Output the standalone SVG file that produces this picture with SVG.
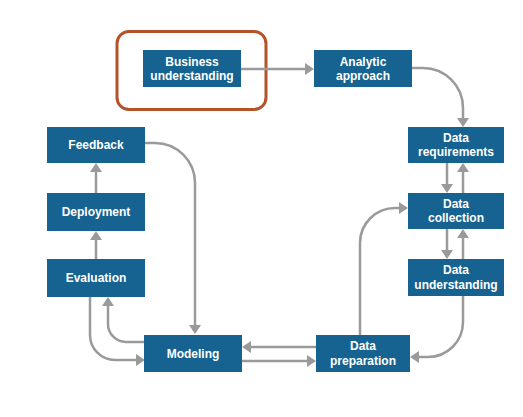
<svg xmlns="http://www.w3.org/2000/svg" width="523" height="417" viewBox="0 0 523 417">
<defs>
<style>
.box{fill:#166290;}
.lbl{fill:#ffffff;font-family:"Liberation Sans",Arial,sans-serif;font-weight:bold;font-size:12px;text-anchor:middle;}
.conn{fill:none;stroke:#9a9a9a;stroke-width:2.5;marker-end:url(#ah);}
</style>
<marker id="ah" markerUnits="userSpaceOnUse" markerWidth="10" markerHeight="12" refX="2" refY="6" orient="auto">
<path d="M0,0 L9,6 L0,12 z" fill="#9a9a9a"/>
</marker>
</defs>
<rect width="523" height="417" fill="#ffffff"/>
<rect x="117" y="31.5" width="149" height="78" rx="12" fill="none" stroke="#b4532a" stroke-width="3"/>

<g id="connectors">
<path class="conn" d="M241,69 H307"/>
<path class="conn" d="M412,68 H423 A40,40 0 0 1 463,108 V120"/>
<path class="conn" d="M447,163 V186"/>
<path class="conn" d="M463,193 V170"/>
<path class="conn" d="M447,229 V252"/>
<path class="conn" d="M463,259 V236"/>
<path class="conn" d="M463,296 V322 A35,35 0 0 1 428,357 H417"/>
<path class="conn" d="M360,335 V243 A35,35 0 0 1 395,208 H401"/>
<path class="conn" d="M316,347 H249"/>
<path class="conn" d="M242,361 H309"/>
<path class="conn" d="M145,342 H126 A18,18 0 0 1 108,324 V304"/>
<path class="conn" d="M90,297 V335 A25,25 0 0 0 115,360 H138"/>
<path class="conn" d="M96,259 V238"/>
<path class="conn" d="M96,193 V170"/>
<path class="conn" d="M145,143 H155 A40,40 0 0 1 195,183 V327"/>
</g>

<g id="business-understanding">
<rect class="box" x="143" y="50" width="98" height="37"/>
<text class="lbl" x="192" y="65.5">Business</text>
<text class="lbl" x="192" y="80">understanding</text>
</g>
<g id="analytic-approach">
<rect class="box" x="314" y="50" width="98" height="37"/>
<text class="lbl" x="363" y="65.5">Analytic</text>
<text class="lbl" x="363" y="80">approach</text>
</g>
<g id="data-requirements">
<rect class="box" x="408" y="127" width="96" height="36"/>
<text class="lbl" x="456" y="141.5">Data</text>
<text class="lbl" x="456" y="156">requirements</text>
</g>
<g id="data-collection">
<rect class="box" x="408" y="193" width="96" height="36"/>
<text class="lbl" x="456" y="207.5">Data</text>
<text class="lbl" x="456" y="222">collection</text>
</g>
<g id="data-understanding">
<rect class="box" x="408" y="259" width="96" height="37"/>
<text class="lbl" x="456" y="274">Data</text>
<text class="lbl" x="456" y="288.5">understanding</text>
</g>
<g id="data-preparation">
<rect class="box" x="316" y="335" width="94" height="37"/>
<text class="lbl" x="363" y="350">Data</text>
<text class="lbl" x="363" y="364.5">preparation</text>
</g>
<g id="modeling">
<rect class="box" x="144" y="335" width="98" height="37"/>
<text class="lbl" x="193" y="357.5">Modeling</text>
</g>
<g id="evaluation">
<rect class="box" x="47" y="259" width="98" height="38"/>
<text class="lbl" x="96" y="282">Evaluation</text>
</g>
<g id="deployment">
<rect class="box" x="47" y="193" width="98" height="38"/>
<text class="lbl" x="96" y="216">Deployment</text>
</g>
<g id="feedback">
<rect class="box" x="47" y="127" width="98" height="36"/>
<text class="lbl" x="96" y="149">Feedback</text>
</g>
</svg>
